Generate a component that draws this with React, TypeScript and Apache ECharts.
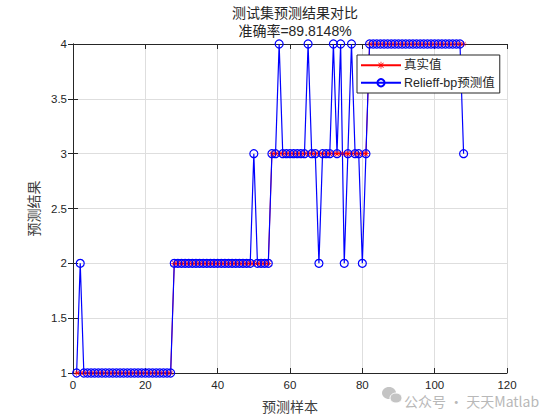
import React, { useEffect, useRef } from "react";
import * as echarts from "echarts";

const titleText = "测试集预测结果对比";
const subtitleText = "准确率=89.8148%";
const xName = "预测样本";
const yName = "预测结果";
const legendTrue = "真实值";
const legendPred = "Relieff-bp预测值";

const trueValues = [
  1, 1, 1, 1, 1, 1, 1, 1, 1, 1, 1, 1, 1, 1, 1, 1, 1, 1, 1, 1, 1, 1, 1, 1, 1, 1, 1,
  2, 2, 2, 2, 2, 2, 2, 2, 2, 2, 2, 2, 2, 2, 2, 2, 2, 2, 2, 2, 2, 2, 2, 2, 2, 2, 2,
  3, 3, 3, 3, 3, 3, 3, 3, 3, 3, 3, 3, 3, 3, 3, 3, 3, 3, 3, 3, 3, 3, 3, 3, 3, 3, 3,
  4, 4, 4, 4, 4, 4, 4, 4, 4, 4, 4, 4, 4, 4, 4, 4, 4, 4, 4, 4, 4, 4, 4, 4, 4, 4, 4,
];

const predValues = [
  1, 2, 1, 1, 1, 1, 1, 1, 1, 1, 1, 1, 1, 1, 1, 1, 1, 1, 1, 1, 1, 1, 1, 1, 1, 1, 1,
  2, 2, 2, 2, 2, 2, 2, 2, 2, 2, 2, 2, 2, 2, 2, 2, 2, 2, 2, 2, 2, 2, 3, 2, 2, 2, 2,
  3, 3, 4, 3, 3, 3, 3, 3, 3, 3, 4, 3, 3, 2, 3, 3, 3, 4, 3, 4, 2, 3, 4, 3, 3, 2, 3,
  4, 4, 4, 4, 4, 4, 4, 4, 4, 4, 4, 4, 4, 4, 4, 4, 4, 4, 4, 4, 4, 4, 4, 4, 4, 4, 3,
];

const X_MIN = 0;
const X_MAX = 120;
const X_STEP = 20;
const Y_MIN = 1;
const Y_MAX = 4;
const Y_STEP = 0.5;

const STAR =
  "path://M0,4.5h10v1h-10z M4.5,0h1v10h-1z M1.1,1.8l0.7,-0.7l7.1,7.1l-0.7,0.7z M8.2,1.1l0.7,0.7l-7.1,7.1l-0.7,-0.7z";

const TXT = "#262626";
const SANS = "'Liberation Sans', Arial, 'Noto Sans CJK SC', sans-serif";
const CJK = "'Noto Sans CJK SC', sans-serif";

export default function App() {
  const ref = useRef<HTMLDivElement>(null);

  useEffect(() => {
    document.body.style.margin = "0";
    if (!ref.current) return;
    const chart = echarts.init(ref.current, undefined, { renderer: "svg" });

    const truePairs = trueValues.map((v, i) => [i + 1, v]);
    const predPairs = predValues.map((v, i) => [i + 1, v]);

    const baseAxis = {
      type: "value" as const,
      axisLine: { show: true, lineStyle: { color: TXT, width: 1 } },
      axisTick: { show: true, inside: true, length: 5, lineStyle: { color: TXT } },
    };

    chart.setOption({
      animation: false,
      backgroundColor: "#ffffff",
      title: [
        {
          text: titleText,
          left: 290,
          top: 0,
          textAlign: "center",
          textStyle: { fontFamily: CJK, fontSize: 14, fontWeight: "normal", color: TXT },
        },
        {
          text: subtitleText,
          left: 290,
          top: 19,
          textAlign: "center",
          textStyle: { fontFamily: SANS, fontSize: 14, fontWeight: "normal", color: TXT },
        },
      ],
      grid: { left: 73, right: 53, top: 44, bottom: 47, containLabel: false },
      legend: {
        orient: "vertical",
        left: 357,
        top: 55,
        width: 138,
        itemWidth: 40,
        itemHeight: 9,
        itemGap: 5,
        padding: [4, 5, 4, 3],
        backgroundColor: "#ffffff",
        borderColor: TXT,
        borderWidth: 1,
        borderRadius: 0,
        textStyle: { fontFamily: SANS, fontSize: 12.5, color: TXT, padding: [0, 0, 0, -2] },
        data: [legendTrue, legendPred],
      },
      xAxis: [
        {
          ...baseAxis,
          min: X_MIN,
          max: X_MAX,
          interval: X_STEP,
          position: "bottom",
          name: xName,
          nameLocation: "middle",
          nameGap: 26,
          nameTextStyle: { fontFamily: CJK, fontSize: 14, color: "#404040" },
          axisLabel: { fontFamily: SANS, fontSize: 11.5, color: TXT, margin: 6 },
          splitLine: { show: true, lineStyle: { color: "#dedede", width: 1 } },
        },
        {
          ...baseAxis,
          min: X_MIN,
          max: X_MAX,
          interval: X_STEP,
          position: "top",
          axisLabel: { show: false },
          splitLine: { show: false },
        },
      ],
      yAxis: [
        {
          ...baseAxis,
          min: Y_MIN,
          max: Y_MAX,
          interval: Y_STEP,
          position: "left",
          name: yName,
          nameLocation: "middle",
          nameGap: 28,
          nameTextStyle: { fontFamily: CJK, fontSize: 14, color: "#404040" },
          axisLabel: { fontFamily: SANS, fontSize: 11.5, color: TXT, margin: 6 },
          splitLine: { show: true, lineStyle: { color: "#dedede", width: 1 } },
        },
        {
          ...baseAxis,
          min: Y_MIN,
          max: Y_MAX,
          interval: Y_STEP,
          position: "right",
          axisLabel: { show: false },
          splitLine: { show: false },
        },
      ],
      series: [
        {
          name: legendTrue,
          type: "line",
          xAxisIndex: 0,
          yAxisIndex: 0,
          data: truePairs,
          symbol: STAR,
          symbolSize: 6,
          showAllSymbol: true,
          lineStyle: { color: "#ff0000", width: 1 },
          itemStyle: { color: "#ff0000" },
          emphasis: { disabled: true },
        },
        {
          name: legendPred,
          type: "line",
          xAxisIndex: 0,
          yAxisIndex: 0,
          data: predPairs,
          symbol: "circle",
          symbolSize: 8,
          showAllSymbol: true,
          lineStyle: { color: "#0000ff", width: 1.2 },
          itemStyle: { color: "rgba(255,255,255,0)", borderColor: "#0000ff", borderWidth: 1.2 },
          emphasis: { disabled: true },
        },
      ],
      graphic: [
        {
          type: "group",
          left: 382,
          top: 387,
          children: [
            { type: "ellipse", shape: { cx: 7, cy: 7, rx: 7, ry: 6 }, style: { fill: "#c4c4c4" } },
            { type: "ellipse", shape: { cx: 14, cy: 12, rx: 6, ry: 5 }, style: { fill: "#c4c4c4", stroke: "#ffffff", lineWidth: 1 } },
          ],
        },
        {
          type: "text",
          left: 404,
          top: 394,
          style: {
            text: "公众号 · 天天Matlab",
            font: "14px 'Noto Sans CJK SC', sans-serif",
            fill: "#b8b8b8",
          },
        },
      ],
    });

    return () => chart.dispose();
  }, []);

  return <div ref={ref} style={{ width: 560, height: 420 }} />;
}
